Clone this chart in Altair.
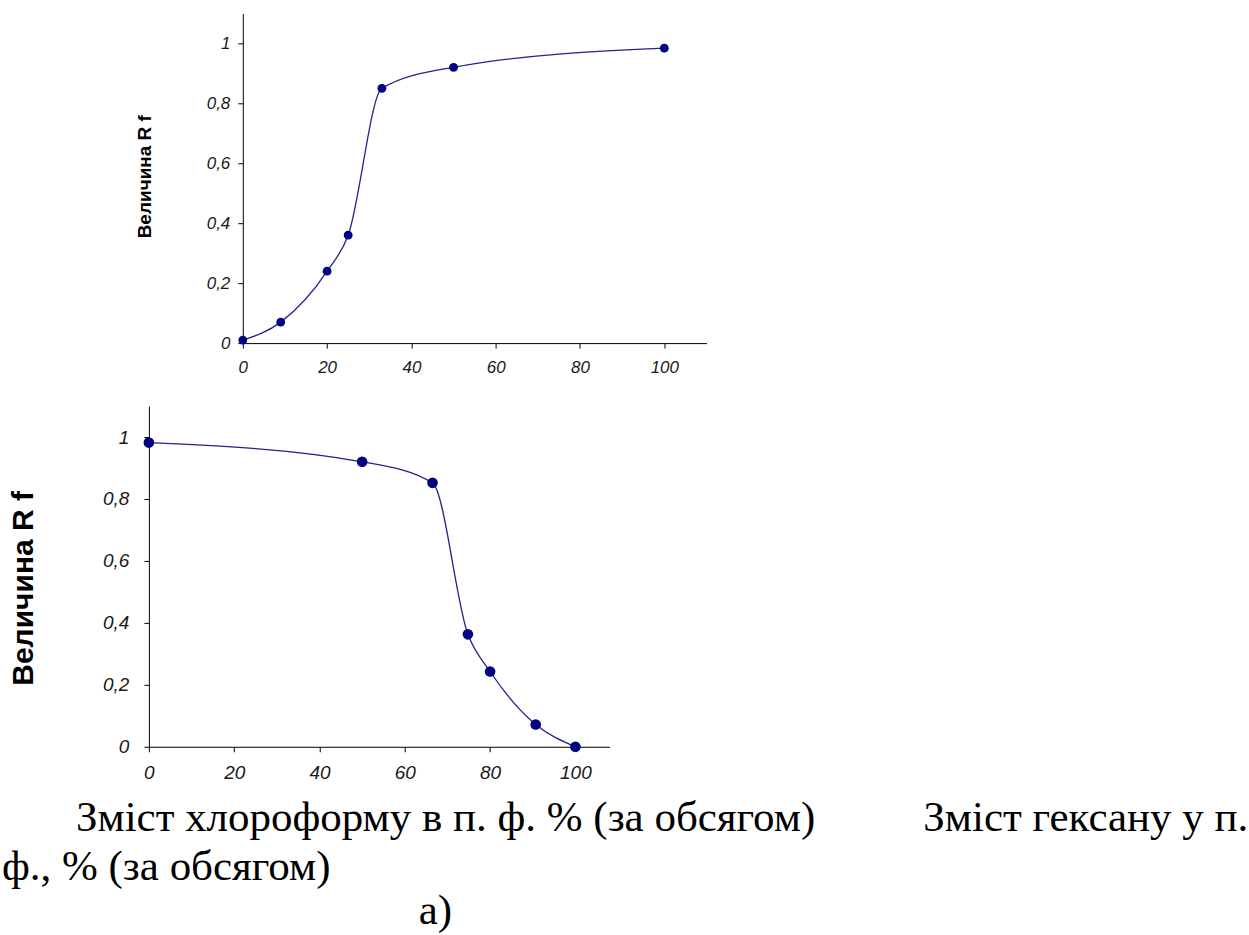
import altair as alt
import pandas as pd

# ---- data ----
chloroform = [0, 9, 20, 25, 33, 50, 100]
rf_top = [0.01, 0.07, 0.24, 0.36, 0.85, 0.92, 0.984]
hexane = [0, 50, 66.5, 74.8, 80, 90.7, 100]
rf_bottom = [0.982, 0.92, 0.852, 0.363, 0.243, 0.072, 0.0]
x_ticks = [0, 20, 40, 60, 80, 100]
y_ticks = [0, 0.2, 0.4, 0.6, 0.8, 1]
y_title = "Величина R f"
caption_1a = "Зміст хлороформу в п. ф. % (за обсягом)"
caption_1b = "Зміст гексану у п."
caption_2 = "ф., % (за обсягом)"
caption_3 = "а)"

NAVY = "#000080"
LINE = "#23238a"
LABEL_EXPR = "replace(format(datum.value, '.1~f'), '.', ',')"


def panel(df, xmax, label_size, label_pad_y, label_pad_x,
          title_size, title_pad, dot_size, title_y):
    x = alt.X("x:Q", scale=alt.Scale(domain=[0, xmax], nice=False, zero=True),
              axis=alt.Axis(values=x_ticks, title=None, grid=False,
                            labelFont="Liberation Sans", labelFontStyle="italic",
                            labelFontSize=label_size, labelColor="#1a1a1a",
                            labelPadding=label_pad_x, tickSize=5,
                            domainColor="black", tickColor="black",
                            labelFlush=False, labelOverlap=False))
    y = alt.Y("y:Q", scale=alt.Scale(domain=[0, 1.1], nice=False),
              axis=alt.Axis(values=y_ticks, title=y_title, grid=False,
                            labelExpr=LABEL_EXPR,
                            labelFont="Liberation Sans", labelFontStyle="italic",
                            labelFontSize=label_size, labelColor="#1a1a1a",
                            labelPadding=label_pad_y, tickSize=5,
                            domainColor="black", tickColor="black",
                            titleFont="Liberation Sans", titleFontWeight="bold",
                            titleFontSize=title_size, titleColor="black",
                            titlePadding=title_pad, titleY=title_y,
                            labelFlush=False, labelOverlap=False))
    base = alt.Chart(df).encode(x=x, y=y)
    line = base.mark_line(color=LINE, strokeWidth=1.3, interpolate="monotone")
    pts = base.mark_circle(color=NAVY, opacity=1, size=dot_size)
    return line, pts


df_top = pd.DataFrame({"x": chloroform, "y": rf_top})
df_bot = pd.DataFrame({"x": hexane, "y": rf_bottom})

l1, p1 = panel(df_top, 110, 17, 8, 11, 19, 52, 78, 163)
top = alt.layer(l1, p1).properties(width=464, height=330)

l2, p2 = panel(df_bot, 108, 19, 15, 12, 30, 64, 113, 182)

cap_style = dict(font="Liberation Serif", fontSize=43, color="black",
                 align="left", baseline="alphabetic")
cap_df = pd.DataFrame({"a": [0]})
c1 = alt.Chart(cap_df).mark_text(text=caption_1a, **cap_style).encode(
    x=alt.value(-73), y=alt.value(425))
c2 = alt.Chart(cap_df).mark_text(text=caption_1b, **cap_style).encode(
    x=alt.value(775), y=alt.value(425))
c3 = alt.Chart(cap_df).mark_text(text=caption_2, **cap_style).encode(
    x=alt.value(-147), y=alt.value(474))
c4 = alt.Chart(cap_df).mark_text(text=caption_3, **cap_style).encode(
    x=alt.value(270), y=alt.value(518))

bottom = alt.layer(l2, p2, c1, c2, c3, c4).properties(width=461, height=341)


def spacer(w):
    return alt.Chart(cap_df).mark_point(opacity=0, size=1).encode(
        x=alt.value(0), y=alt.value(0)).properties(width=w, height=10)


row_top = alt.hconcat(spacer(134), top, spacing=0)
row_bot = alt.hconcat(spacer(1), bottom, spacing=0)

chart = alt.vconcat(row_top, row_bot, spacing=30).properties(
    padding={"left": 0, "top": 12, "right": 0, "bottom": 0},
    background="white",
).configure_view(stroke=None)

chart.save("out.html", embed_options={"renderer": "svg", "actions": False})
